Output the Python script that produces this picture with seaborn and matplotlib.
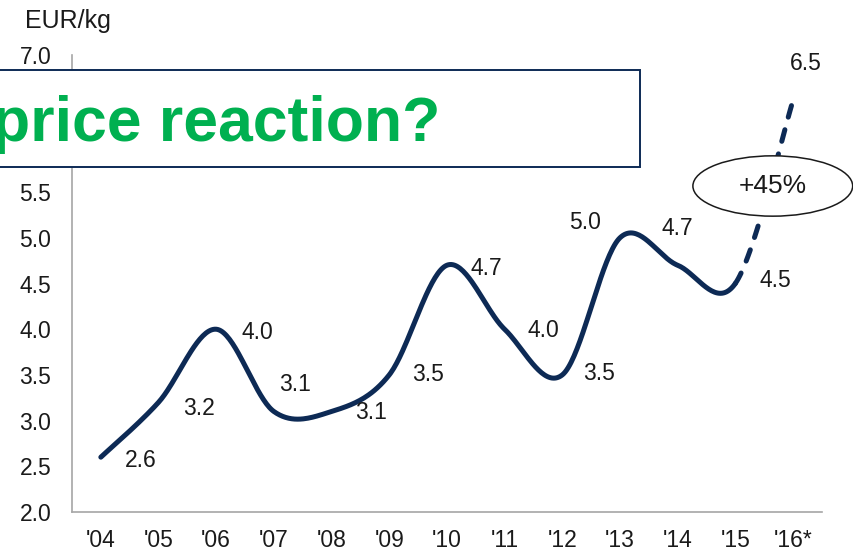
import numpy as np
import pandas as pd
import matplotlib.pyplot as plt
import seaborn as sns
from matplotlib.patches import Rectangle, Ellipse

# Data
years = ["'04", "'05", "'06", "'07", "'08", "'09", "'10", "'11", "'12", "'13", "'14", "'15", "'16*"]
price = [2.6, 3.2, 4.0, 3.1, 3.1, 3.5, 4.7, 4.0, 3.5, 5.0, 4.7, 4.5, 6.5]
value_labels = ["2.6", "3.2", "4.0", "3.1", "3.1", "3.5", "4.7", "4.0", "3.5", "5.0", "4.7", "4.5", "6.5"]
n_actual = 12  # '04..'15 are actual, '16* is forecast

# label placement (pixels, relative to the point)
label_offsets = [(40, -3), (40, -6), (41, -3), (21, 27), (39, -1), (39, 0), (39, -3),
                 (39, -1), (37, 1), (-35, 15), (0, 37), (40, 3), (13, 37)]

NAVY = '#0d2a55'
GREEN = '#00b050'
TEXT = '#1a1a1a'
GRID = '#a6a6a6'
FS = 16.5


def smooth(xs, ys, seg, n=40):
    # Excel-style smoothed line: cubic Bezier through the points,
    # control points from neighbouring points (Catmull-Rom)
    p = np.column_stack([xs, ys]).astype(float)
    i0, i1 = seg, seg + 1
    pm = p[max(i0 - 1, 0)]
    pn = p[min(i1 + 1, len(p) - 1)]
    b0 = p[i0]
    b1 = p[i0] + (p[i1] - pm) / 6
    b2 = p[i1] - (pn - p[i0]) / 6
    b3 = p[i1]
    t = np.linspace(0, 1, n)[:, None]
    pts = ((1 - t) ** 3) * b0 + 3 * ((1 - t) ** 2) * t * b1 + 3 * (1 - t) * t ** 2 * b2 + t ** 3 * b3
    return pts


sns.set_style('white')
plt.rcParams['font.family'] = ['Liberation Sans', 'DejaVu Sans']

fig = plt.figure(figsize=(8.54, 5.53), dpi=100)
ax = fig.add_axes([0.0843, 0.0741, 0.878, 0.8264])

xi = np.arange(len(years))
solid = np.vstack([smooth(xi, price, s) for s in range(n_actual - 1)])
dashed = smooth(xi, price, n_actual - 1)

df_solid = pd.DataFrame({'x': solid[:, 0], 'y': solid[:, 1]})
df_dash = pd.DataFrame({'x': dashed[:, 0], 'y': dashed[:, 1]})

sns.lineplot(data=df_solid, x='x', y='y', ax=ax, sort=False, estimator=None,
             color=NAVY, linewidth=3.6, solid_capstyle='round')
sns.lineplot(data=df_dash, x='x', y='y', ax=ax, sort=False, estimator=None,
             color=NAVY, linewidth=3.6, linestyle=(0, (2.4, 2.6)),
             dash_capstyle='round')

# data labels
for i, (lab, off) in enumerate(zip(value_labels, label_offsets)):
    ax.annotate(lab, (xi[i], price[i]), xytext=off, textcoords='offset pixels',
                ha='center', va='center', fontsize=FS, color=TEXT)

# axes styling
yt = np.arange(2.0, 7.01, 0.5)
ax.set_xlim(-0.5, len(years) - 0.5)
ax.set_ylim(2.0, 7.0)
ax.set_yticks(yt)
# 6.0 and 6.5 sit under the headline box
ax.set_yticklabels(['' if v in (6.0, 6.5) else f'{v:.1f}' for v in yt])
ax.set_xticks(xi)
ax.set_xticklabels(years)
ax.set_xticks(np.arange(-0.5, len(years)), minor=True)
ax.tick_params(axis='x', which='major', length=0, pad=12, labelsize=FS, colors=TEXT)
ax.tick_params(axis='x', which='minor', length=5, width=1.2, color=GRID, direction='out')
ax.tick_params(axis='y', length=5, width=1.2, color=GRID, labelsize=FS, labelcolor=TEXT,
               direction='out', pad=10)
ax.set_xlabel('')
ax.set_ylabel('')
for side in ['top', 'right']:
    ax.spines[side].set_visible(False)
for side in ['left', 'bottom']:
    ax.spines[side].set_color(GRID)
    ax.spines[side].set_linewidth(1.2)

# unit label
fig.text(0.029, 0.962, 'EUR/kg', fontsize=18, color=TEXT, ha='left', va='center')

# ellipse callout on the forecast jump
ell = Ellipse((11.65, 5.567), 2.77, 0.66, transform=ax.transData,
              facecolor='white', edgecolor='#1a1a1a', linewidth=1.1, zorder=5,
              clip_on=False)
ax.add_patch(ell)
ax.text(11.65, 5.567, '+45%', ha='center', va='center', fontsize=19, color=TEXT,
        zorder=6, clip_on=False)

# headline box, cut off at the left edge
box = Rectangle((-0.02, 0.698), 0.769, 0.175, transform=fig.transFigure,
                facecolor='white', edgecolor=NAVY, linewidth=1.4, zorder=10)
fig.patches.append(box)
fig.text(-0.009, 0.745, 'price reaction?', fontsize=45, fontweight='bold',
         color=GREEN, ha='left', va='baseline', zorder=11)

fig.savefig('out.png', dpi=100)
